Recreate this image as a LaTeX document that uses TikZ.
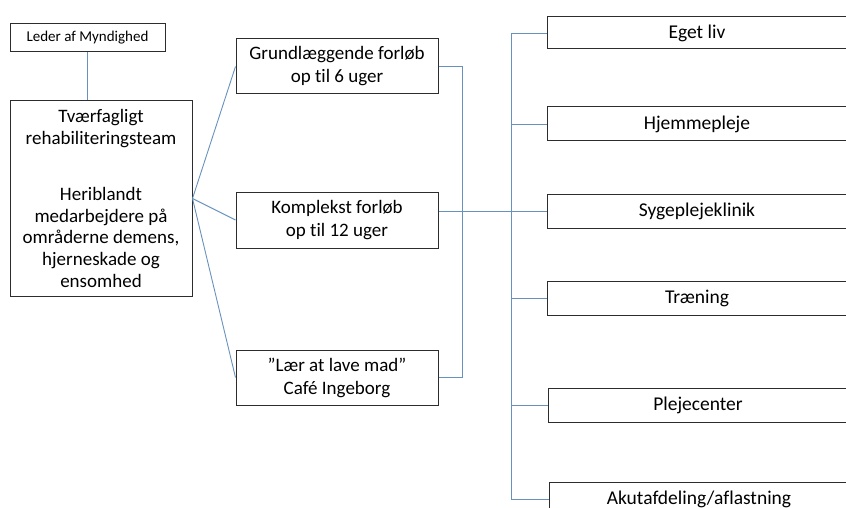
\documentclass[tikz,border=0pt]{standalone}
\usepackage{fontspec}
\setmainfont{Carlito}[Ligatures={NoCommon}]
\usetikzlibrary{positioning}
\definecolor{LinkBlue}{RGB}{104,146,190}
\definecolor{BoxGray}{RGB}{45,45,45}

\begin{document}
\begin{tikzpicture}[
    x=1pt, y=-1pt,
    box/.style={
        rectangle,
        draw=BoxGray, line width=1pt, fill=white,
        align=center, inner sep=0pt,
        font=\fontsize{19}{23}\selectfont
    },
    sidebox/.style={
        box,
        minimum width=300, minimum height=34,
        font=\fontsize{19.5}{23}\selectfont
    },
    link/.style={LinkBlue, line width=0.9pt}
]
\useasboundingbox (0,0) rectangle (846,508);
\clip (0,0) rectangle (846,508);

% Left column
\node[box, minimum width=155, minimum height=28, font=\fontsize{15}{18}\selectfont] (leder) at (87.5,38) {Leder af Myndighed};

\node[box, minimum width=182, minimum height=195, font=\fontsize{19}{21.7}\selectfont] (team) at (101,198.5) {
    Tværfagligt\\
    rehabiliteringsteam\\[34.5pt]
    Heriblandt\\
    medarbejdere på\\
    områderne demens,\\
    hjerneskade og\\
    ensomhed
};

% Middle column
\node[box, minimum width=202, minimum height=55] (grund) at (337,66.5) {Grundlæggende forløb\\op til 6 uger};
\node[box, minimum width=202, minimum height=56] (kompl) at (337,220) {Komplekst forløb\\op til 12 uger};
\node[box, minimum width=202, minimum height=55] (laer) at (337,377.5) {”Lær at lave mad”\\Café Ingeborg};

% Right column
\node[sidebox, minimum height=32] (eget) at (697,33) {Eget liv};
\node[sidebox] (hjem) at (697,124) {Hjemmepleje};
\node[sidebox] (syge) at (697,211) {Sygeplejeklinik};
\node[sidebox] (traen) at (697,298.5) {Træning};
\node[sidebox] (pleje) at (698,405) {Plejecenter};
\node[sidebox] (akut) at (699,499) {Akutafdeling/aflastning};

\coordinate (busm) at (462,377.5);
\coordinate (busr) at (511,0);

% Connectors
\draw[link] (leder.south) -- (leder.south |- team.north);
\draw[link] (team.east) -- (grund.west);
\draw[link] (team.east) -- (kompl.west);
\draw[link] (team.east) -- (laer.west);

\draw[link] (grund.east) -| (busm) -- (laer.east);
\draw[link] (kompl.east |- syge.west) -- (syge.west);

\draw[link] (eget.west -| busr) -- (akut.west -| busr);
\foreach \n in {eget,hjem,syge,traen,pleje,akut}
    \draw[link] (\n.west -| busr) -- (\n.west);

\end{tikzpicture}
\end{document}
